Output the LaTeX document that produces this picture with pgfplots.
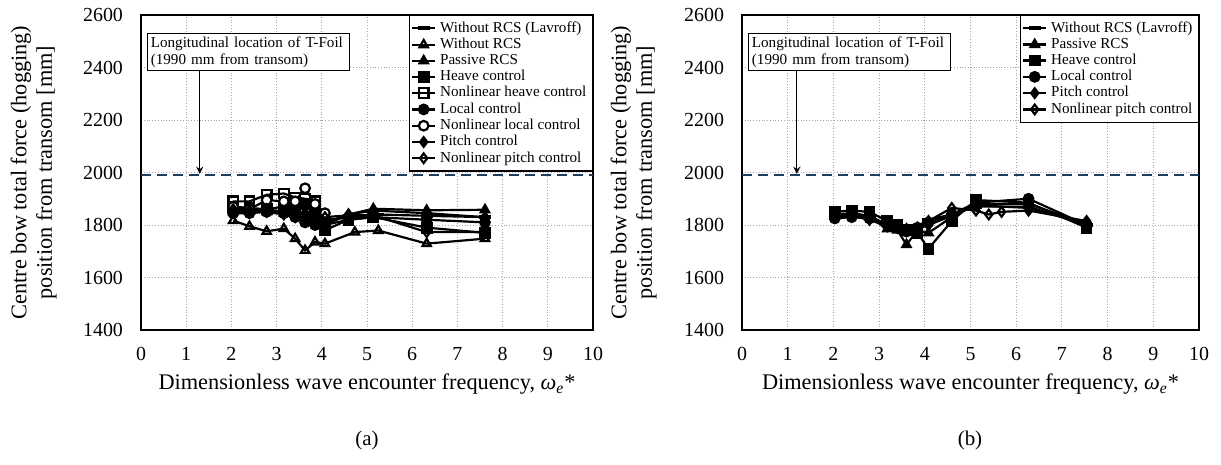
\documentclass[border=0pt]{standalone}
\usepackage{fontspec}
\setmainfont{Liberation Serif}
\usepackage{pgfplots}
\pgfplotsset{compat=1.18}
\definecolor{refnavy}{HTML}{1F3B63}
\pgfplotsset{
  panel/.style={
    scale only axis,
    width=226bp, height=157.5bp,
    xmin=0, xmax=10, ymin=1400, ymax=2600,
    xtick={0,1,...,10}, ytick={1400,1600,...,2600},
    grid=major,
    major grid style={gray!70, densely dotted, line width=0.5pt},
    axis line style={line width=0.8pt},
    tick style={draw=none},
    /pgf/number format/assume math mode=true,
    /pgf/number format/1000 sep={},
    tick label style={font=\fontsize{10}{11}\selectfont},
    yticklabel style={xshift=-5.5bp},
    xticklabel style={yshift=-5bp},
    xlabel={Dimensionless wave encounter frequency, \textit{ω\textsubscript{e}}*},
    ylabel={Centre bow total force (hogging)\\position from transom [mm]},
    xlabel style={font=\fontsize{11.2}{12}\selectfont},
    ylabel style={font=\fontsize{11.2}{12.8}\selectfont, align=center,
      at={(axis description cs:-0.186,0.5)}, anchor=south, inner sep=0pt},
    legend cell align=left,
    legend image code/.code={\draw[mark repeat=2,mark phase=2,##1] plot coordinates {(0cm,0cm) (0.2cm,0cm) (0.4cm,0cm)};},
    legend style={at={(rel axis cs:1,1)}, anchor=north east, draw=black, line width=0.6pt,
      font=\fontsize{7.6}{8.4}\selectfont, inner sep=1pt, row sep=-2.6pt},
    every axis plot/.append style={line width=1.1pt, black, mark size=2.4bp},
  },
}
\begin{document}
\begin{tikzpicture}
% ---------- (a) ----------
\begin{axis}[panel]
\addplot[mark=-, mark size=3bp, mark options={line width=2pt}] coordinates {(2.04,1860) (2.40,1858) (2.78,1855) (3.16,1850) (3.41,1845) (3.63,1840) (3.85,1835) (4.07,1820) (4.73,1830) (5.25,1840) (6.32,1835) (7.61,1830)};
\addlegendentry{Without RCS (Lavroff)}
\addplot[mark=triangle, mark options={fill=white}] coordinates {(2.04,1817) (2.40,1795) (2.78,1776) (3.16,1786) (3.41,1748) (3.63,1703) (3.85,1735) (4.07,1729) (4.73,1773) (5.25,1779) (6.32,1729) (7.61,1748)};
\addlegendentry{Without RCS}
\addplot[mark=triangle*] coordinates {(2.04,1850) (2.40,1852) (2.78,1850) (3.16,1845) (3.41,1840) (3.63,1850) (3.85,1830) (4.07,1800) (4.59,1840) (5.14,1862) (6.32,1856) (7.61,1858)};
\addlegendentry{Passive RCS}
\addplot[mark=square*] coordinates {(2.04,1870) (2.40,1865) (2.78,1860) (3.16,1870) (3.41,1870) (3.63,1880) (3.85,1860) (4.07,1780) (4.59,1820) (5.14,1830) (6.32,1790) (7.61,1770)};
\addlegendentry{Heave control}
\addplot[mark=square, mark options={fill=white}] coordinates {(2.04,1890) (2.40,1890) (2.78,1915) (3.16,1920) (3.41,1905) (3.63,1900) (3.85,1890)};
\addlegendentry{Nonlinear heave control}
\addplot[mark=*] coordinates {(2.04,1845) (2.40,1845) (2.78,1850) (3.16,1845) (3.41,1830) (3.63,1810) (3.85,1800) (4.07,1800) (4.59,1820) (5.14,1830) (6.32,1820) (7.61,1810)};
\addlegendentry{Local control}
\addplot[mark=*, mark options={fill=white}] coordinates {(2.04,1870) (2.40,1860) (2.78,1895) (3.16,1890) (3.41,1890) (3.63,1940) (3.85,1880) (4.07,1845)};
\addlegendentry{Nonlinear local control}
\addplot[mark=diamond*] coordinates {(2.04,1860) (2.40,1855) (2.78,1860) (3.16,1850) (3.41,1840) (3.63,1830) (3.85,1820) (4.07,1810) (4.59,1840) (5.14,1855) (6.32,1845) (7.61,1830)};
\addlegendentry{Pitch control}
\addplot[mark=diamond, mark options={fill=white}] coordinates {(2.04,1850) (2.40,1850) (2.78,1850) (3.16,1840) (3.41,1830) (3.63,1820) (3.85,1810) (4.07,1830) (4.59,1837) (5.14,1837) (6.32,1773) (7.61,1773)};
\addlegendentry{Nonlinear pitch control}
\addplot[refnavy, line width=1.1pt, dash pattern=on 5bp off 3bp, mark=none, forget plot] coordinates {(0,1990) (10,1990)};
\node[draw=black, line width=0.5pt, fill=white, anchor=north west, align=left, inner sep=1.5pt,
  font=\fontsize{7.6}{8.4}\selectfont, text width=98bp] at (axis cs:0.14,2530) {Longitudinal location of T-Foil\\(1990 mm from transom)};
\draw[-stealth, line width=0.6pt] (axis cs:1.3,2390) -- (axis cs:1.3,1995);
\end{axis}
% ---------- (b) ----------
\begin{axis}[panel, at={(300.5bp,0)}, width=228.5bp]
\addplot[mark=-, mark size=3bp, mark options={line width=2pt}] coordinates {(2.03,1840) (2.40,1845) (2.79,1835) (3.18,1800) (3.40,1795) (3.60,1790) (3.84,1795) (4.08,1820) (4.59,1840) (5.12,1870) (6.27,1870) (7.54,1800)};
\addlegendentry{Without RCS (Lavroff)}
\addplot[mark=triangle*] coordinates {(2.03,1835) (2.40,1840) (2.79,1830) (3.18,1785) (3.40,1780) (3.60,1725) (3.84,1780) (4.08,1770) (4.59,1830) (5.12,1880) (6.27,1880) (7.54,1805)};
\addlegendentry{Passive RCS}
\addplot[mark=square*] coordinates {(2.03,1850) (2.40,1855) (2.79,1850) (3.18,1815) (3.40,1800) (3.60,1780) (3.84,1770) (4.08,1710) (4.59,1815) (5.12,1895) (6.27,1885) (7.54,1790)};
\addlegendentry{Heave control}
\addplot[mark=*] coordinates {(2.03,1825) (2.40,1830) (2.79,1825) (3.18,1800) (3.40,1790) (3.60,1775) (3.84,1790) (4.08,1810) (4.59,1840) (5.12,1885) (6.27,1900) (7.54,1800)};
\addlegendentry{Local control}
\addplot[mark=diamond*] coordinates {(2.03,1830) (2.40,1835) (2.79,1820) (3.18,1795) (3.40,1790) (3.60,1780) (3.84,1785) (4.08,1800) (4.59,1835) (5.12,1875) (6.27,1865) (7.54,1805)};
\addlegendentry{Pitch control}
\addplot[mark=diamond, mark options={fill=white}] coordinates {(2.03,1835) (2.40,1840) (2.79,1830) (3.18,1800) (3.40,1790) (3.60,1785) (3.84,1790) (4.08,1815) (4.59,1865) (5.12,1855) (5.40,1840) (5.68,1850) (6.27,1855) (7.54,1815)};
\addlegendentry{Nonlinear pitch control}
\addplot[refnavy, line width=1.1pt, dash pattern=on 5bp off 3bp, mark=none, forget plot] coordinates {(0,1990) (10,1990)};
\node[draw=black, line width=0.5pt, fill=white, anchor=north west, align=left, inner sep=1.5pt,
  font=\fontsize{7.6}{8.4}\selectfont, text width=98bp] at (axis cs:0.14,2530) {Longitudinal location of T-Foil\\(1990 mm from transom)};
\draw[-stealth, line width=0.6pt] (axis cs:1.2,2390) -- (axis cs:1.2,1995);
\end{axis}
\node[font=\fontsize{10.5}{12}\selectfont] at (113bp,-55bp) {(a)};
\node[font=\fontsize{10.5}{12}\selectfont] at (414.5bp,-55bp) {(b)};
\pgfresetboundingbox
\path[use as bounding box] (-70.5bp,-67.5bp) rectangle (540bp,165bp);
\end{tikzpicture}
\end{document}
